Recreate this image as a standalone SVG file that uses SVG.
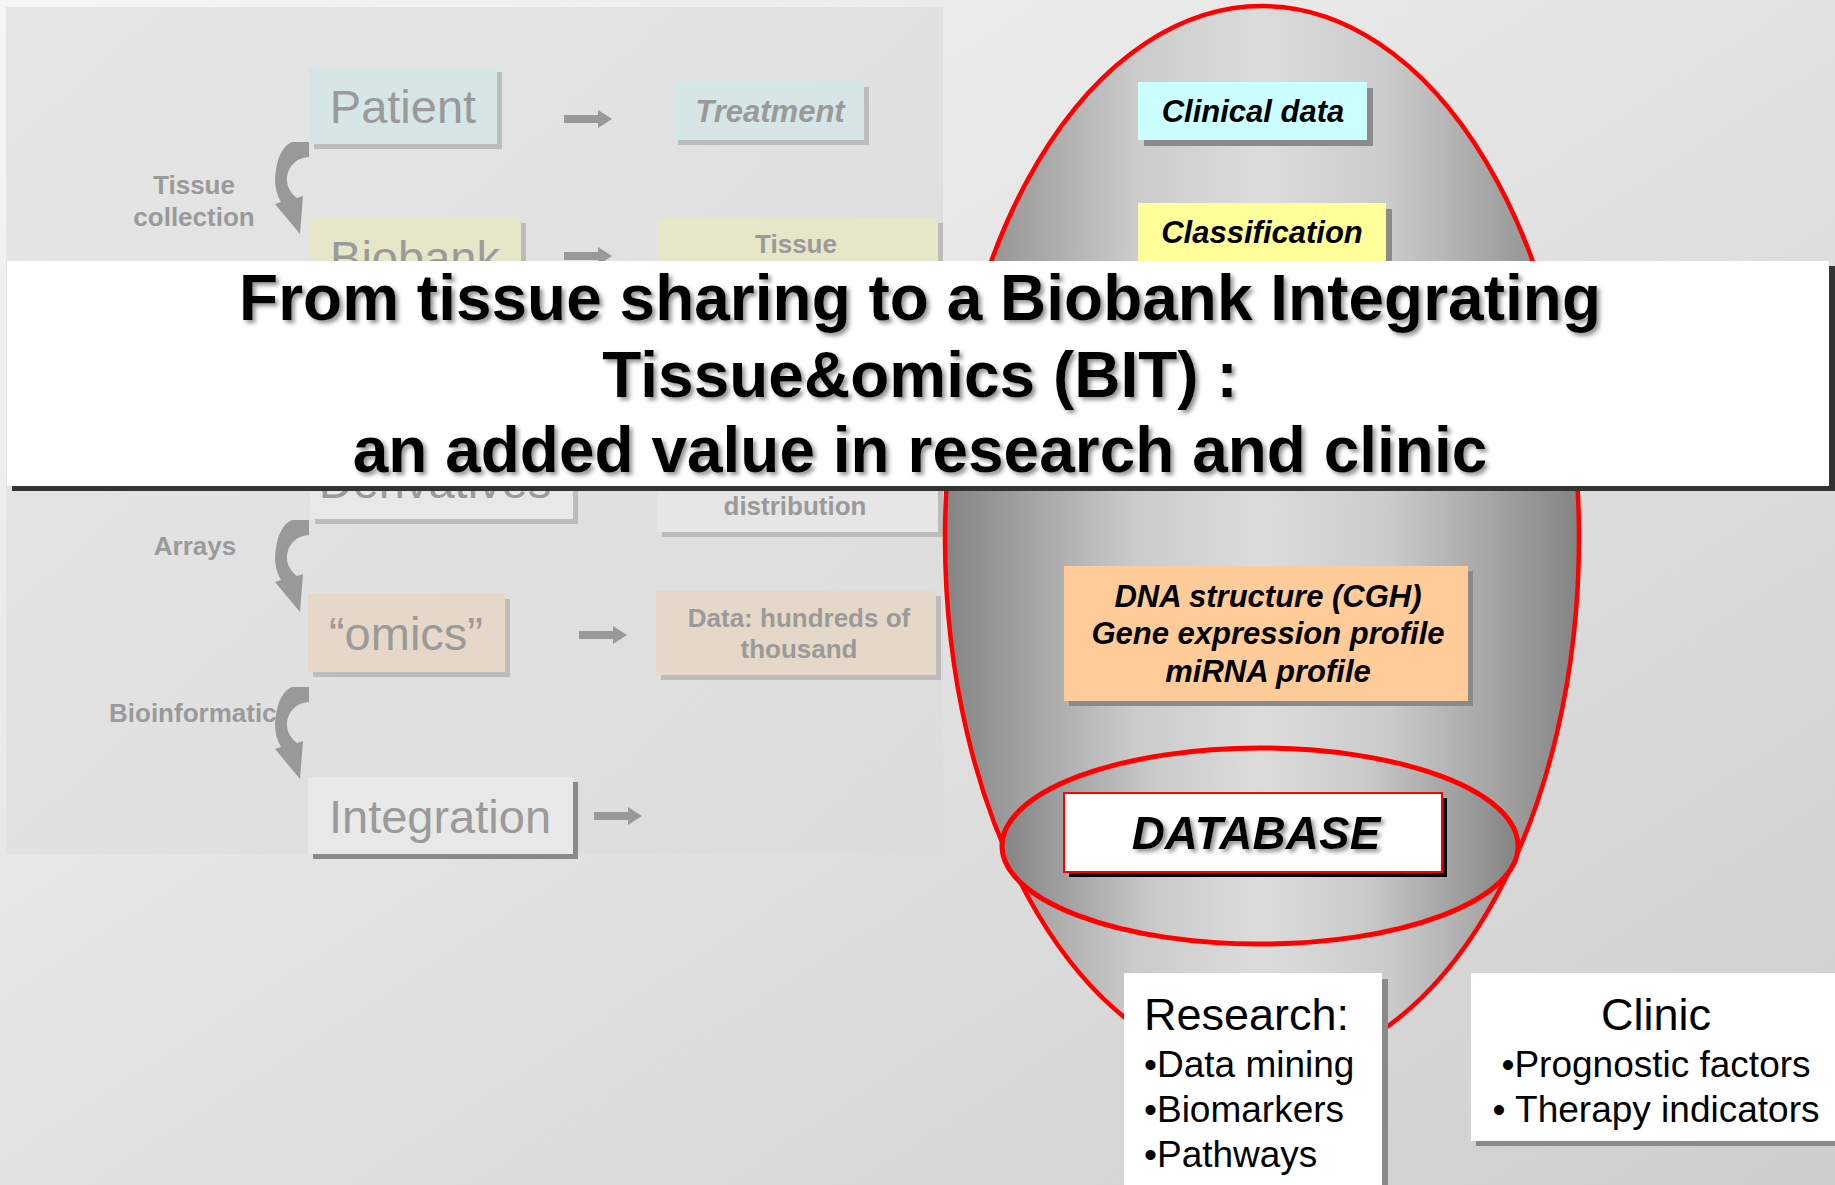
<svg xmlns="http://www.w3.org/2000/svg" width="1835" height="1185" viewBox="0 0 1835 1185">
<defs>
<linearGradient id="bg" x1="0" y1="0" x2="1" y2="1"><stop offset="0" stop-color="#f6f6f6"/><stop offset="1" stop-color="#cecece"/></linearGradient>
<linearGradient id="panel" x1="0" y1="0" x2="1" y2="1"><stop offset="0" stop-color="#e6e6e6"/><stop offset="1" stop-color="#dcdcdc"/></linearGradient>
<linearGradient id="eg" x1="0" y1="0" x2="1" y2="0"><stop offset="0" stop-color="#848484"/><stop offset="0.3" stop-color="#cbcbcb"/><stop offset="0.5" stop-color="#dcdcdc"/><stop offset="0.7" stop-color="#cbcbcb"/><stop offset="1" stop-color="#848484"/></linearGradient>
<filter id="ts" x="-5%" y="-20%" width="110%" height="140%"><feDropShadow dx="3" dy="3" stdDeviation="2" flood-color="#777" flood-opacity="0.8"/></filter>
<path id="curve" d="M -17 0 L 0 0 L 0 15 C -14 16, -22 26, -22 38 C -22 46, -17 52, -12 56 L -6 54 L -9 92 L -34 62 L -28 60 C -34 50, -35 38, -33 28 C -31 14, -26 4, -17 0 Z"/>
<path id="blk" d="M 0 -4 L 34 -4 L 34 -9 L 48 0 L 34 9 L 34 4 L 0 4 Z"/>
</defs>
<style>
.g{font-family:"Liberation Sans",Arial,sans-serif;fill:#9a9a9a}
.big{font-size:47px}
.lbl{font-size:26px;font-weight:bold}
.k{font-family:"Liberation Sans",Arial,sans-serif;fill:#000}
.bi{font-weight:bold;font-style:italic;font-size:31px}
.sh{fill:#bcbcbc}
.shd{fill:#8a8a8a}
.arr{fill:#999}
</style>
<rect x="0" y="0" width="1835" height="1185" fill="url(#bg)"/>
<rect x="6" y="7" width="937" height="847" fill="url(#panel)"/>

<g id="label-tissue-collection"><text class="g lbl" x="194" y="194" text-anchor="middle">Tissue</text><text class="g lbl" x="194" y="226" text-anchor="middle">collection</text></g>
<g id="label-arrays"><text class="g lbl" x="195" y="555" text-anchor="middle">Arrays</text></g>
<g id="label-bioinformatics"><text class="g lbl" x="109" y="722" font-size="26.5">Bioinformatic</text></g>

<g id="connectors">
<use href="#curve" x="309" y="142" class="arr"/>
<use href="#curve" x="309" y="520" class="arr"/>
<use href="#curve" x="309" y="687" class="arr"/>
<use href="#blk" x="564" y="119" class="arr"/>
<use href="#blk" x="564" y="256" class="arr"/>
<use href="#blk" x="579" y="635" class="arr"/>
<use href="#blk" x="594" y="816" class="arr"/>
</g>

<g id="patient"><rect x="314" y="72" width="188" height="77" class="sh"/><rect x="309" y="67" width="188" height="77" fill="#d6e6e6"/><text class="g big" x="403" y="123" text-anchor="middle">Patient</text></g>
<g id="treatment"><rect x="678" y="87" width="191" height="58" class="sh"/><rect x="673" y="82" width="191" height="58" fill="#d6e6e6"/><text class="g" x="770" y="122" text-anchor="middle" font-size="31" font-weight="bold" font-style="italic">Treatment</text></g>
<g id="biobank"><rect x="314" y="223" width="212" height="77" class="sh"/><rect x="309" y="218" width="212" height="77" fill="#e6e6c8"/><text class="g big" x="415" y="274" text-anchor="middle">Biobank</text></g>
<g id="tissue"><rect x="662" y="223" width="281" height="77" class="sh"/><rect x="657" y="218" width="281" height="77" fill="#e6e6c8"/><text class="g lbl" x="796" y="253" text-anchor="middle">Tissue</text></g>
<g id="derivatives"><rect x="315" y="447" width="263" height="77" class="sh"/><rect x="310" y="442" width="263" height="77" fill="#e8e8e8"/><text class="g big" x="435" y="498" text-anchor="middle">Derivatives</text></g>
<g id="distribution"><rect x="662" y="460" width="281" height="77" class="sh"/><rect x="657" y="455" width="281" height="77" fill="#e6e6e6"/><text class="g lbl" x="795" y="515" text-anchor="middle">distribution</text></g>
<g id="omics"><rect x="313" y="599" width="197" height="78" class="sh"/><rect x="308" y="594" width="197" height="78" fill="#e6d8c8"/><text class="g big" x="406" y="650" text-anchor="middle">“omics”</text></g>
<g id="data"><rect x="661" y="596" width="280" height="84" class="sh"/><rect x="656" y="591" width="280" height="84" fill="#e6d8c8"/><text class="g lbl" x="799" y="627" text-anchor="middle">Data: hundreds of</text><text class="g lbl" x="799" y="658" text-anchor="middle">thousand</text></g>
<g id="integration"><rect x="313" y="782" width="265" height="77" class="shd"/><rect x="308" y="777" width="265" height="77" fill="#e8e8e8"/><text class="g big" x="440" y="833" text-anchor="middle">Integration</text></g>

<g id="outer-ellipse"><ellipse cx="1262" cy="538" rx="317" ry="532" fill="url(#eg)" stroke="#ff0000" stroke-width="4.5"/></g>
<g id="clinical-data"><rect x="1144" y="88" width="229" height="58" class="shd"/><rect x="1138" y="82" width="229" height="58" fill="#ccffff"/><text class="k bi" x="1253" y="122" text-anchor="middle">Clinical data</text></g>
<g id="classification"><rect x="1144" y="209" width="248" height="80" class="shd"/><rect x="1138" y="203" width="248" height="80" fill="#ffff99"/><text class="k bi" x="1262" y="243" text-anchor="middle">Classification</text></g>
<g id="dna"><rect x="1069" y="571" width="404" height="135" class="shd"/><rect x="1064" y="566" width="404" height="135" fill="#ffcc99"/><text class="k bi" x="1268" y="607" text-anchor="middle">DNA structure (CGH)</text><text class="k bi" x="1268" y="644" text-anchor="middle">Gene expression profile</text><text class="k bi" x="1268" y="682" text-anchor="middle">miRNA profile</text></g>
<g id="inner-ellipse"><ellipse cx="1260" cy="846" rx="258" ry="98" fill="url(#eg)" stroke="#ff0000" stroke-width="5"/></g>
<g id="database"><rect x="1069" y="798" width="378" height="79" fill="#000"/><rect x="1064" y="793" width="378" height="79" fill="#fff" stroke="#ff0000" stroke-width="2"/><text class="k" x="1256" y="849" text-anchor="middle" font-size="46" font-weight="bold" font-style="italic" filter="url(#ts)">DATABASE</text></g>

<g id="research"><rect x="1130" y="979" width="258" height="210" class="shd"/><rect x="1124" y="973" width="258" height="215" fill="#fff"/><text class="k" x="1144" y="1030" font-size="45">Research:</text><text class="k" x="1144" y="1077" font-size="37">•Data mining</text><text class="k" x="1144" y="1122" font-size="37">•Biomarkers</text><text class="k" x="1144" y="1167" font-size="37">•Pathways</text></g>
<g id="clinic"><rect x="1476" y="978" width="365" height="168" class="shd"/><rect x="1471" y="973" width="370" height="168" fill="#fff"/><text class="k" x="1656" y="1030" font-size="45" text-anchor="middle">Clinic</text><text class="k" x="1656" y="1077" font-size="37" text-anchor="middle">•Prognostic factors</text><text class="k" x="1656" y="1122" font-size="37" text-anchor="middle">• Therapy indicators</text></g>

<g id="title"><rect x="12" y="266" width="1823" height="225" fill="#333"/><rect x="7" y="261" width="1822" height="225" fill="#fff"/>
<g class="k" font-size="64" font-weight="bold" text-anchor="middle" filter="url(#ts)"><text x="920" y="320">From tissue sharing to a Biobank Integrating</text><text x="920" y="397">Tissue&amp;omics (BIT) :</text><text x="920" y="472">an added value in research and clinic</text></g></g>
</svg>
